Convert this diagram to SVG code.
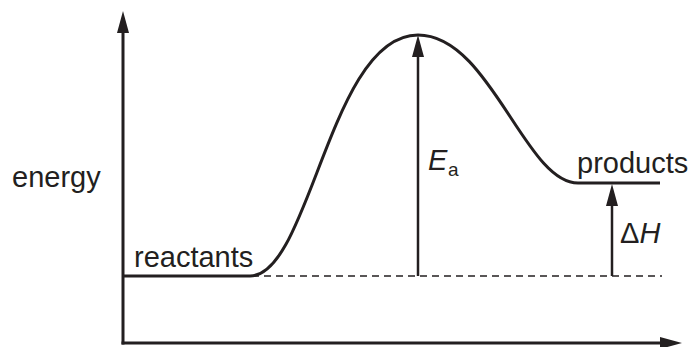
<svg xmlns="http://www.w3.org/2000/svg" width="690" height="347" viewBox="0 0 690 347">
<defs>
<style>
.ax{stroke:#231f20;stroke-width:3;fill:none}
.ar{stroke:#231f20;stroke-width:2.5;fill:none}
.cv{stroke:#231f20;stroke-width:3;fill:none;stroke-linecap:butt}
.ds{stroke:#231f20;stroke-width:1.3;stroke-dasharray:7 5;fill:none}
text{font-family:"Liberation Sans",Arial,sans-serif;font-size:29px;fill:#231f20}
.it{font-style:italic}
</style>
<marker id="ah" markerUnits="userSpaceOnUse" markerWidth="24" markerHeight="14" refX="0" refY="6" orient="auto" overflow="visible">
<path d="M0,0 L22,6 L0,12 z" fill="#231f20"/>
</marker>
</defs>
<rect width="690" height="347" fill="#fff"/>
<g id="connectors">
<line id="y-axis" class="ax" x1="123" y1="344.5" x2="123" y2="33" marker-end="url(#ah)"/>
<line id="x-axis" class="ax" x1="121.5" y1="343" x2="660" y2="343" marker-end="url(#ah)"/>
<line id="baseline" class="ds" x1="252" y1="276" x2="662" y2="276"/>
<line id="ea-arrow" class="ar" x1="418" y1="276" x2="418" y2="57" marker-end="url(#ah)"/>
<line id="dh-arrow" class="ar" x1="612" y1="276" x2="612" y2="206" marker-end="url(#ah)"/>
</g>
<g id="curve">
<path class="cv" d="M123 276 H250 C310 276 330 35 418 35 C490 35 525 183 578 183 H660"/>
</g>
<g id="energy"><text x="12" y="187">energy</text></g>
<g id="reactants"><text x="134" y="267">reactants</text></g>
<g id="products"><text x="577" y="173">products</text></g>
<g id="ea"><text x="428" y="170"><tspan class="it">E</tspan><tspan x="448" y="176" font-size="19">a</tspan></text></g>
<g id="dh"><text x="620" y="243">Δ<tspan class="it">H</tspan></text></g>
</svg>
